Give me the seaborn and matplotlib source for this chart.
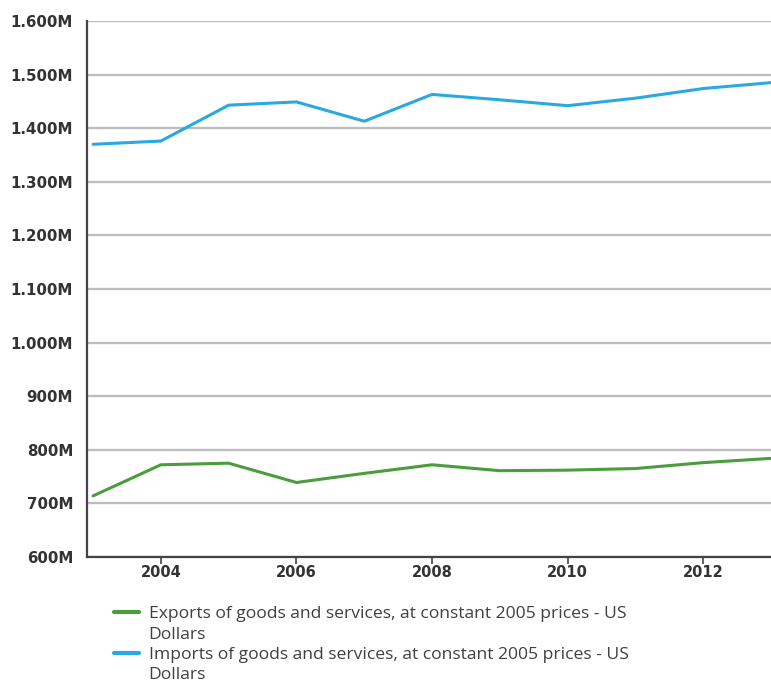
"""
Exports vs imports of goods and services (constant 2005 prices, US$)
"""
import pandas as pd
import matplotlib
matplotlib.use("Agg")
import matplotlib.pyplot as plt
from matplotlib.lines import Line2D
from matplotlib.ticker import FuncFormatter
import seaborn as sns

# ------------------------------------------------------------------
# Data (millions of US$)
# ------------------------------------------------------------------
years = [2003, 2004, 2005, 2006, 2007, 2008, 2009, 2010, 2011, 2012, 2013]
exports = [714, 772, 775, 739, 756, 772, 761, 762, 765, 776, 784]
imports = [1370, 1376, 1443, 1449, 1413, 1463, 1453, 1442, 1456, 1474, 1485]

export_label = "Exports of goods and services, at constant 2005 prices - US"
import_label = "Imports of goods and services, at constant 2005 prices - US"
label_tail = "Dollars"

x_ticks = [2004, 2006, 2008, 2010, 2012]
y_ticks = [600, 700, 800, 900, 1000, 1100, 1200, 1300, 1400, 1500, 1600]

GREEN = "#4b9c3c"
BLUE = "#2aa9e0"

df = pd.DataFrame({
    "year": years * 2,
    "value": exports + imports,
    "series": ["exports"] * len(years) + ["imports"] * len(years),
})

sns.set_style("white")

fig = plt.figure(figsize=(7.71, 6.84), dpi=100)
ax = fig.add_axes([0.1128, 0.1857, 0.8872, 0.7836])

sns.lineplot(
    data=df, x="year", y="value", hue="series",
    palette={"exports": GREEN, "imports": BLUE},
    linewidth=2.2, ax=ax, legend=False,
)

ax.set_xlim(2002.91, 2013.0)
ax.set_ylim(600, 1600)
ax.set_xticks(x_ticks)
ax.set_yticks(y_ticks)
ax.yaxis.set_major_formatter(FuncFormatter(lambda v, _: f"{v:,.0f}M".replace(",", ".")))
ax.set_xlabel("")
ax.set_ylabel("")

ax.grid(axis="y", color="#bdbdbd", linewidth=1.7)
ax.grid(axis="x", visible=False)
ax.set_axisbelow(True)

for side in ["top", "right"]:
    ax.spines[side].set_visible(False)
for side in ["left", "bottom"]:
    ax.spines[side].set_color("#444444")
    ax.spines[side].set_linewidth(1.6)

ax.tick_params(axis="x", bottom=True, length=5, width=1.2, color="#444444",
               pad=0.5, labelsize=10.5, labelcolor="#333333")
ax.tick_params(axis="y", left=False, length=0, pad=10, labelsize=10.8, labelcolor="#333333")
for lab in ax.get_xticklabels() + ax.get_yticklabels():
    lab.set_fontweight("bold")

# legend: one row per text line, handle on the first line of each entry
handles = [
    Line2D([], [], color=GREEN, linewidth=3),
    Line2D([], [], color="none"),
    Line2D([], [], color=BLUE, linewidth=3),
    Line2D([], [], color="none"),
]
labels = [export_label, label_tail, import_label, label_tail]
leg = fig.legend(
    handles, labels, loc="upper left", bbox_to_anchor=(0.137, 0.1265),
    frameon=False, handlelength=1.4, handletextpad=0.55, labelspacing=0.23,
    borderpad=0, prop={"family": "Open Sans", "size": 12.6},
)
for t in leg.get_texts():
    t.set_color("#404040")

fig.savefig("out.png", dpi=100)
plt.close(fig)
